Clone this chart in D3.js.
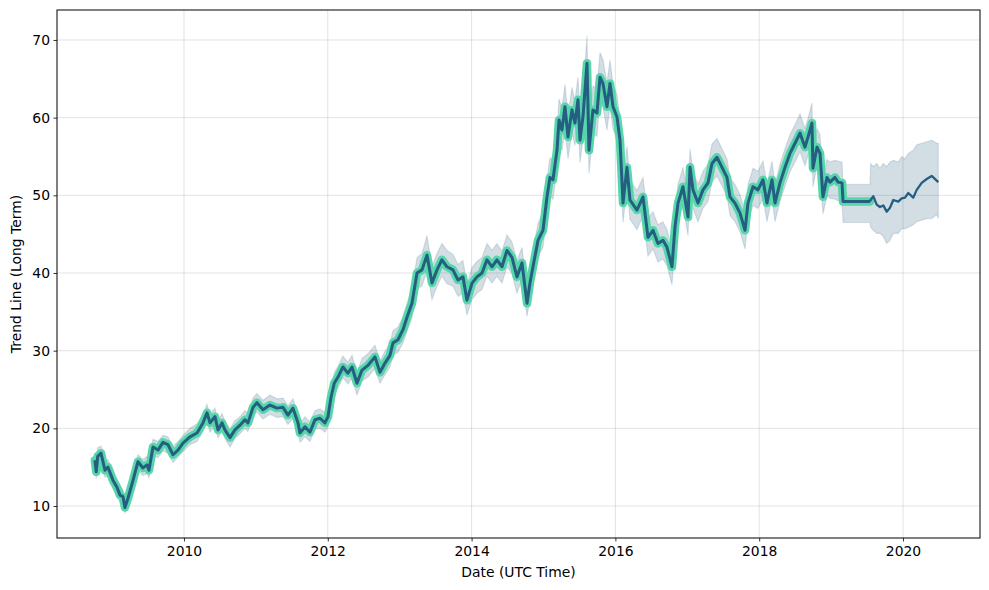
<!DOCTYPE html>
<html><head><meta charset="utf-8">
<script src="https://cdn.jsdelivr.net/npm/d3@7"></script>
<style>body{margin:0;background:#fff} svg text{font-family:"DejaVu Sans",sans-serif}</style>
</head><body><svg id="c" width="989" height="590"></svg>
<script>
// ---- data (decimal year, value) ----
const dates = [2008.76,2008.78,2008.80,2008.846,2008.901,2008.943,2009.013,2009.068,2009.110,2009.152,2009.179,2009.221,2009.291,2009.360,2009.430,2009.485,2009.513,2009.569,2009.638,2009.708,2009.777,2009.847,2009.917,2009.986,2010.083,2010.181,2010.264,2010.320,2010.362,2010.431,2010.473,2010.529,2010.570,2010.640,2010.709,2010.779,2010.848,2010.890,2010.960,2011.015,2011.099,2011.196,2011.293,2011.377,2011.446,2011.516,2011.586,2011.613,2011.683,2011.752,2011.822,2011.892,2011.961,2012.003,2012.045,2012.090,2012.142,2012.211,2012.281,2012.337,2012.406,2012.476,2012.559,2012.656,2012.726,2012.796,2012.865,2012.907,2012.976,2013.046,2013.102,2013.171,2013.241,2013.310,2013.380,2013.449,2013.519,2013.588,2013.658,2013.741,2013.811,2013.880,2013.936,2014.006,2014.075,2014.145,2014.214,2014.284,2014.353,2014.423,2014.492,2014.562,2014.631,2014.701,2014.771,2014.812,2014.854,2014.924,2014.993,2015.049,2015.090,2015.132,2015.188,2015.216,2015.257,2015.299,2015.341,2015.396,2015.438,2015.480,2015.508,2015.549,2015.605,2015.633,2015.688,2015.744,2015.786,2015.827,2015.883,2015.925,2015.967,2016.022,2016.064,2016.106,2016.161,2016.203,2016.300,2016.384,2016.453,2016.523,2016.592,2016.662,2016.718,2016.787,2016.829,2016.871,2016.940,2017.010,2017.038,2017.079,2017.149,2017.218,2017.288,2017.344,2017.413,2017.483,2017.552,2017.594,2017.663,2017.733,2017.803,2017.844,2017.914,2017.983,2018.053,2018.108,2018.178,2018.220,2018.289,2018.359,2018.428,2018.498,2018.568,2018.637,2018.679,2018.734,2018.748,2018.804,2018.846,2018.887,2018.943,2018.985,2019.054,2019.096,2019.152,2019.166,2019.541];
const trend = [15.9,14.4,16.4,16.8,14.6,15.0,13.3,12.4,11.4,11.2,9.8,11.0,13.3,15.7,14.9,15.3,14.6,17.6,17.2,18.2,17.9,16.6,17.2,18.1,18.9,19.4,20.7,22.0,20.7,21.5,19.8,20.7,19.8,18.8,19.8,20.4,21.1,20.7,22.7,23.3,22.4,23.0,22.6,22.7,21.7,22.6,20.7,19.4,20.2,19.5,21.1,21.3,20.7,21.5,24.0,25.8,26.6,27.9,27.1,27.9,25.8,27.5,28.1,29.2,27.2,28.4,29.4,31.0,31.4,32.7,34.3,36.1,40.0,40.4,42.3,38.7,40.4,41.7,40.8,40.4,39.1,39.5,36.5,38.7,39.5,40.0,41.7,40.8,41.7,40.8,42.9,42.0,39.5,41.3,36.1,38.7,40.8,44.2,45.5,49.8,52.3,52.0,55.8,59.7,58.4,61.4,57.5,61.0,59.3,62.3,57.1,60.1,67.0,55.8,61.0,60.6,65.2,64.4,61.4,64.4,61.4,60.1,57.1,49.0,53.6,49.4,48.1,49.8,44.6,45.5,43.8,44.2,43.3,40.8,45.9,49.0,51.1,47.2,53.6,50.7,49.0,50.7,51.6,54.1,54.9,53.6,52.3,49.8,49.0,47.7,45.5,49.0,51.1,50.7,52.0,49.0,52.0,49.0,51.6,53.6,55.4,56.7,58.0,56.2,57.5,59.3,53.5,56.2,55.4,49.8,52.3,51.7,52.3,51.7,51.6,49.2,49.2];
const upper = [16.9,15.6,17.5,17.7,15.8,16.0,14.4,13.5,12.6,12.1,10.9,12.0,14.5,16.6,16.0,16.4,15.6,18.6,18.3,19.1,18.9,17.7,18.3,19.1,20.0,20.6,21.8,23.1,21.8,22.6,21.0,21.9,20.9,19.9,21.0,21.5,22.3,21.8,23.9,24.5,23.6,24.3,23.8,23.9,22.9,23.8,21.9,20.6,21.5,20.8,22.3,22.5,22.0,22.8,25.3,27.2,28.0,29.3,28.5,29.4,27.2,29.0,29.6,30.7,28.7,29.9,31.0,32.6,33.0,34.4,36.1,38.0,42.0,42.5,44.8,40.8,42.5,43.8,42.9,42.4,41.1,41.6,38.6,40.7,41.5,42.0,43.8,42.9,43.8,42.8,44.9,44.0,41.6,43.3,38.2,40.8,42.9,46.4,47.8,52.2,54.8,54.6,58.5,62.4,61.2,64.3,60.4,63.9,62.2,65.2,60.0,63.1,70.5,58.9,64.1,63.7,68.4,67.5,64.5,67.4,64.3,63.0,59.9,51.7,56.3,52.0,50.6,52.3,47.0,47.9,46.2,46.6,45.6,43.1,48.3,51.4,53.6,49.6,56.0,53.1,51.4,53.1,54.0,56.6,57.3,56.0,54.7,52.2,51.4,50.1,47.9,51.4,53.5,53.1,54.4,51.4,54.4,51.4,54.0,56.0,57.8,59.1,60.5,58.6,59.9,61.9,56.0,58.6,57.8,52.3,54.6,54.3,54.5,54.4,54.3,51.4,51.4];
const lower = [14.9,13.5,15.4,15.6,13.7,13.9,12.2,11.5,10.4,10.1,9.1,10.0,12.3,14.6,13.9,14.2,13.6,16.5,16.2,17.1,16.8,15.6,16.3,17.0,17.9,18.3,19.6,20.9,19.5,20.3,18.8,19.6,18.7,17.6,18.7,19.3,20.0,19.6,21.6,22.1,21.2,21.8,21.4,21.5,20.5,21.3,19.5,18.2,18.9,18.3,19.9,20.0,19.5,20.2,22.7,24.5,25.2,26.5,25.7,26.5,24.3,26.1,26.6,27.7,25.8,26.9,27.9,29.4,29.8,31.0,32.5,34.2,38.0,38.3,40.3,36.6,38.3,39.6,38.6,38.3,37.0,37.4,34.6,36.6,37.4,37.9,39.6,38.7,39.6,38.7,40.8,39.9,37.4,39.2,34.4,36.6,38.7,42.1,43.3,47.5,49.9,49.5,53.2,57.1,55.7,58.6,54.7,58.2,56.4,59.5,54.2,57.2,64.0,52.8,58.0,57.6,62.2,61.3,58.4,61.4,58.5,57.3,54.4,46.5,51.0,46.9,45.6,47.3,42.2,43.1,41.4,41.8,40.9,38.5,43.5,46.6,48.7,44.8,51.2,48.3,46.6,48.3,49.2,51.7,52.5,51.2,49.9,47.4,46.6,45.3,43.1,46.6,48.7,48.3,49.6,46.6,49.6,46.6,49.2,51.2,53.0,54.3,55.6,53.8,55.1,56.9,51.1,53.8,53.0,47.6,49.9,49.6,49.5,49.3,49.2,46.5,46.5];
// forecast period (trend line only, wider band)
const fcDates = [2019.550,2019.587,2019.634,2019.680,2019.726,2019.773,2019.819,2019.865,2019.934,2019.982,2020.028,2020.074,2020.143,2020.191,2020.260,2020.330,2020.399,2020.469,2020.491];
const fcTrend = [49.4,49.9,48.8,48.5,48.7,47.9,48.4,49.4,49.2,49.6,49.7,50.3,49.7,50.7,51.6,52.1,52.5,51.9,51.7];
const fcUpper = [54.1,53.7,54.1,53.5,54.1,53.7,54.3,54.5,54.3,55.0,54.7,55.4,55.8,56.5,56.7,56.9,57.1,56.7,56.7];
const fcLower = [45.9,45.5,45.1,45.1,44.7,43.8,44.2,45.1,45.1,45.7,45.7,45.9,46.2,46.6,46.8,47.0,47.0,47.5,47.0];
const xTicks = [2010,2012,2014,2016,2018,2020];
const yTicks = [10,20,30,40,50,60,70];
const xLabel = "Date (UTC Time)";
const yLabel = "Trend Line (Long Term)";

// ---- build rows ----
const hist = dates.map((d,i)=>({d, v:trend[i], hi:upper[i], lo:lower[i]}));
const fc = fcDates.map((d,i)=>({d, v:fcTrend[i], hi:fcUpper[i], lo:fcLower[i]}));
const all = hist.concat(fc);

const L=57, T=10, R=980, B=538;
const svg = d3.select("#c");
const x = d3.scaleLinear().domain([2008.234, 2021.071]).range([L, R]);
const y = d3.scaleLinear().domain([5.88, 73.86]).range([B, T]);

svg.append("defs").append("clipPath").attr("id","clip")
  .append("rect").attr("x",L).attr("y",T).attr("width",R-L).attr("height",B-T);

// grid
const grid = svg.append("g");
grid.selectAll(".gx").data(xTicks).enter().append("line")
  .attr("x1",d=>x(d)).attr("x2",d=>x(d)).attr("y1",T).attr("y2",B)
  .attr("stroke","#b0b0b0").attr("stroke-opacity",0.35).attr("stroke-width",1);
grid.selectAll(".gy").data(yTicks).enter().append("line")
  .attr("y1",d=>y(d)).attr("y2",d=>y(d)).attr("x1",L).attr("x2",R)
  .attr("stroke","#b0b0b0").attr("stroke-opacity",0.35).attr("stroke-width",1);

const plot = svg.append("g").attr("clip-path","url(#clip)");
const band = d3.area().x(d=>x(d.d)).y0(d=>y(d.lo)).y1(d=>y(d.hi));
plot.append("path").datum(all).attr("d",band)
  .attr("fill","#22577a").attr("fill-opacity",0.2)
  .attr("stroke","#22577a").attr("stroke-opacity",0.15).attr("stroke-width",1.2);

const line = d3.line().x(d=>x(d.d)).y(d=>y(d.v));
plot.append("path").datum(hist).attr("d",line)
  .attr("fill","none").attr("stroke","#56d6aa").attr("stroke-width",8.5)
  .attr("stroke-linejoin","round").attr("stroke-linecap","round");
plot.append("path").datum(hist).attr("d",line)
  .attr("fill","none").attr("stroke","#245e80").attr("stroke-width",3.0)
  .attr("stroke-linejoin","round");
plot.append("path").datum([hist[hist.length-1]].concat(fc)).attr("d",line)
  .attr("fill","none").attr("stroke","#245e80").attr("stroke-width",2.3)
  .attr("stroke-linejoin","round");

// axes
const fs = "13.9px";
const ax = svg.append("g").attr("transform",`translate(0,${B})`)
  .call(d3.axisBottom(x).tickValues(xTicks).tickFormat(d3.format("d")).tickSize(3.5).tickPadding(4.5));
const ay = svg.append("g").attr("transform",`translate(${L},0)`)
  .call(d3.axisLeft(y).tickValues(yTicks).tickFormat(d3.format("d")).tickSize(3.5).tickPadding(3.5));
[ax,ay].forEach(g=>{
  g.select(".domain").remove();
  g.selectAll(".tick line").attr("stroke","#000").attr("stroke-width",0.8);
  g.selectAll(".tick text").attr("fill","#000").style("font-size",fs).style("font-family","DejaVu Sans");
});

svg.append("rect").attr("x",L).attr("y",T).attr("width",R-L).attr("height",B-T)
  .attr("fill","none").attr("stroke","#000").attr("stroke-width",1);

svg.append("text").attr("x",(L+R)/2).attr("y",577).attr("text-anchor","middle")
  .style("font-size",fs).text(xLabel);
svg.append("text").attr("transform",`translate(21,${(T+B)/2}) rotate(-90)`).attr("text-anchor","middle")
  .style("font-size",fs).text(yLabel);
</script></body></html>
